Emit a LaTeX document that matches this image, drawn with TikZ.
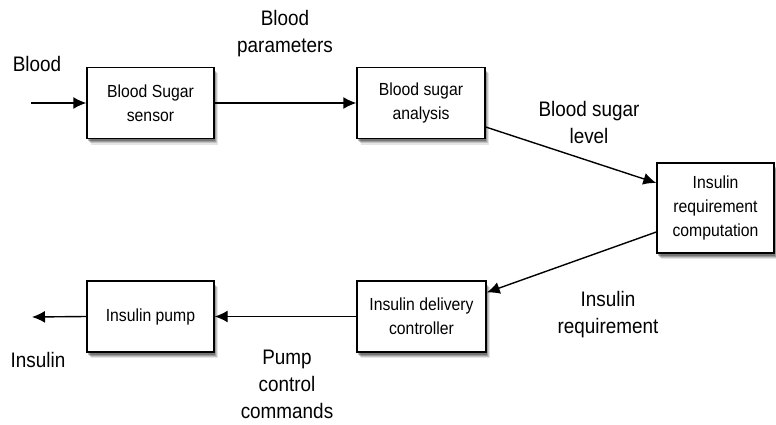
\documentclass[tikz,border=0pt]{standalone}
\usepackage{fontspec}
\setmainfont{Liberation Sans}[FakeStretch=0.9]
\usetikzlibrary{arrows.meta,shadows}
\begin{document}
\begin{tikzpicture}[x=1pt,y=-1pt,
  blk/.style={draw=black,line width=1.4pt,fill=white,align=center,inner sep=0pt,
    font=\fontsize{17.5}{24}\selectfont,
    drop shadow={shadow xshift=4pt,shadow yshift=-6pt,fill=black,opacity=0.10},
    drop shadow={shadow xshift=3pt,shadow yshift=-5pt,fill=black,opacity=0.15},
    drop shadow={shadow xshift=2pt,shadow yshift=-4pt,fill=black,opacity=0.2},
    drop shadow={shadow xshift=1pt,shadow yshift=-3pt,fill=black,opacity=0.25}},
  lbl/.style={align=center,inner sep=0pt,font=\fontsize{21}{27}\selectfont},
  conn/.style={line width=1.4pt,-{Latex[length=13pt,width=12pt]}}]
\useasboundingbox (0,0) rectangle (776,425);
\node[blk,minimum width=127pt,minimum height=71pt] (b1) at (150.5,103) {Blood Sugar\\sensor};
\node[blk,minimum width=128pt,minimum height=71pt] (b2) at (421,103) {Blood sugar\\analysis};
\node[blk,minimum width=117pt,minimum height=90pt] (b3) at (715.5,208) {Insulin\\requirement\\computation};
\node[blk,minimum width=129pt,minimum height=71pt] (b4) at (421.5,316.5) {Insulin delivery\\controller};
\node[blk,minimum width=127pt,minimum height=71pt] (b5) at (150.5,316.5) {Insulin pump};
\coordinate (in) at (31,103);
\coordinate (out) at (32,317);
\draw[conn] (in) -- (b1.west);
\draw[conn] (b1.east) -- (b2.west);
\draw[conn] ([yshift=-24pt]b2.east) -- ([yshift=25pt]b3.west);
\draw[conn] ([yshift=-24pt]b3.west) -- ([yshift=24pt]b4.east);
\draw[conn] (b4.west) -- (b5.west -| b5.east);
\draw[conn] (b5.west) -- (out);
\node[lbl] (l1) at (37,64) {Blood};
\node[lbl] (l2) at (285,34) {Blood\\parameters};
\node[lbl] (l3) at (589,122) {Blood sugar\\level};
\node[lbl] (l4) at (608,315) {Insulin\\requirement};
\node[lbl] (l5) at (287,384) {Pump\\control\\commands};
\node[lbl] (l6) at (38,360) {Insulin};
\end{tikzpicture}
\end{document}
